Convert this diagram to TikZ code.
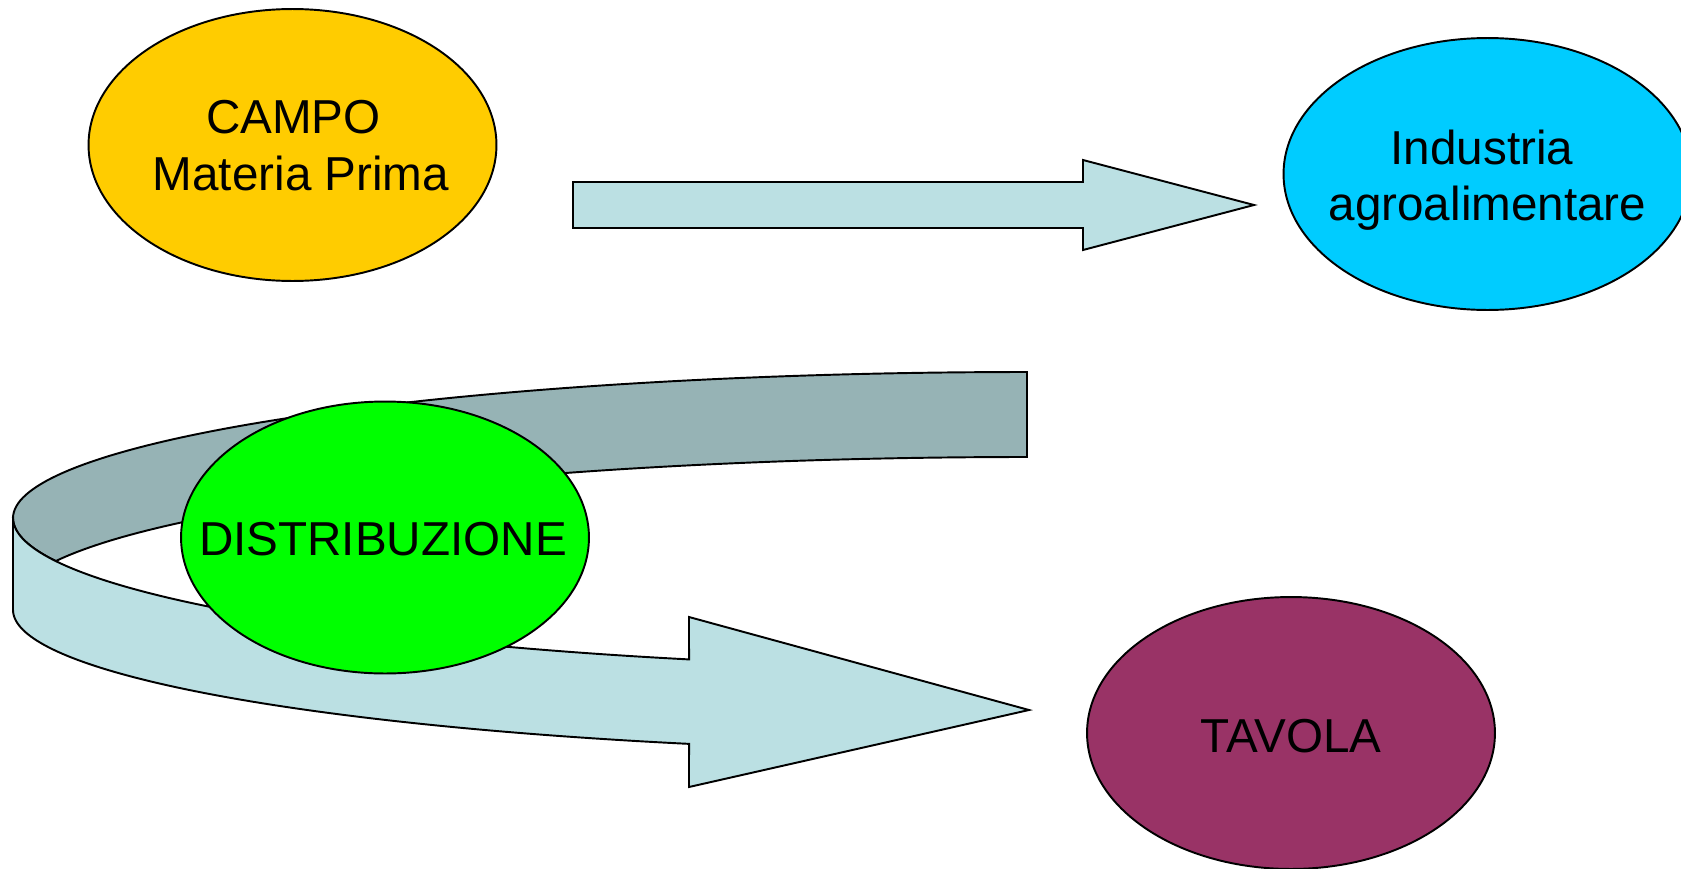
\documentclass[tikz,border=0pt]{standalone}
\usepackage{fontspec}
\setmainfont{Liberation Sans}
\usetikzlibrary{shapes.geometric}
\definecolor{campoC}{HTML}{FFCC00}
\definecolor{induC}{HTML}{00CCFF}
\definecolor{distC}{HTML}{00FF00}
\definecolor{tavolaC}{HTML}{993366}
\definecolor{arrowC}{HTML}{BBE0E3}
\definecolor{backC}{HTML}{96B3B5}
\begin{document}
\begin{tikzpicture}[x=0.02cm,y=-0.02cm,line join=miter,
  blob/.style={ellipse, draw=black, line width=1.1pt, minimum width=8.16cm, minimum height=5.44cm, inner sep=0pt},
  lbl/.style={anchor=base, font=\fontsize{27.1}{32}\selectfont, inner sep=0pt},
  arrowbody/.style={draw=black, line width=1.1pt, fill=arrowC}]
\useasboundingbox (0,0) rectangle (1681,869);

% straight block arrow
\filldraw[arrowbody] (573,182) -- (1083,182) -- (1083,160) -- (1254,205) -- (1083,250) -- (1083,228) -- (573,228) -- cycle;

% back part of curved arrow
\filldraw[arrowbody, fill=backC]
  plot[domain=90:180, samples=80, variable=\t] ({1027+1014*cos(\t)},{518-146*sin(\t)})
  -- plot[domain=180:196.7, samples=12, variable=\t] ({1027+1014*cos(\t)},{518-150*sin(\t)})
  -- plot[domain=163.3:90, samples=80, variable=\t] ({1027+1014*cos(\t)},{603-146*sin(\t)})
  -- cycle;

% front part of curved arrow
\filldraw[arrowbody]
  plot[domain=180:250.53, samples=80, variable=\t] ({1027+1014*cos(\t)},{518-150*sin(\t)})
  -- (689,617) -- (1029,710) -- (689,787)
  -- plot[domain=250.53:180, samples=80, variable=\t] ({1027+1014*cos(\t)},{610-142*sin(\t)})
  -- cycle;

% ellipses
\node[blob, fill=campoC] (campo) at (292.5,145) {};
\node[blob, fill=induC] (industria) at (1487.5,174) {};
\node[blob, fill=distC] (distribuzione) at (385,537.5) {};
\node[blob, fill=tavolaC] (tavola) at (1291,733) {};

% texts
\node[lbl] (campoA) at (293.5,133.5) {CAMPO};
\node[lbl] (campoB) at (301,190) {Materia Prima};
\node[lbl] (induA) at (1482,164) {Industria};
\node[lbl] (induB) at (1487.5,220) {agroalimentare};
\node[lbl] (distA) at (383,555) {DISTRIBUZIONE};
\node[lbl] (tavA) at (1291,752) {TAVOLA};
\end{tikzpicture}
\end{document}
